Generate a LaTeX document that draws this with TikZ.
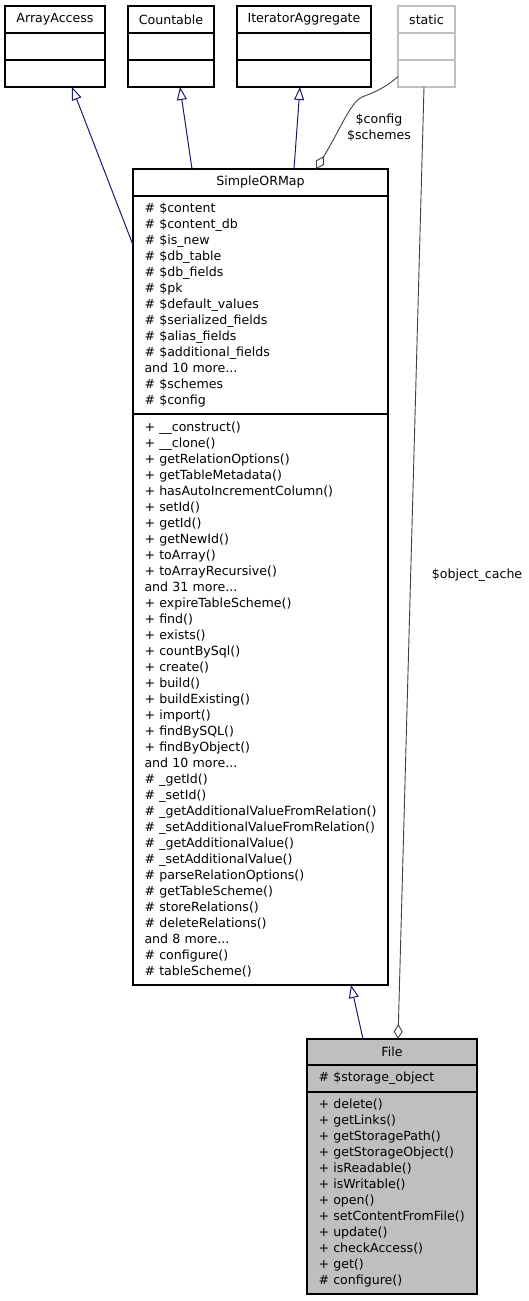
\documentclass[tikz,border=0pt]{standalone}
\usepackage{fontspec}
\setmainfont{DejaVu Sans}
\usetikzlibrary{positioning, arrows.meta}
\definecolor{inhblue}{HTML}{191970}
\definecolor{compgray}{HTML}{404040}
\definecolor{filegray}{HTML}{BFBFBF}
\definecolor{ghostgray}{HTML}{BFBFBF}

\begin{document}
\begin{tikzpicture}[x=1pt, y=-1pt,
  every node/.style={font=\fontsize{12.6}{16}\selectfont},
  hd/.style={draw=black, fill=white, line width=1.1pt, anchor=north west, inner sep=0pt, outer sep=0pt, minimum height=27pt},
  cmp/.style={draw=black, fill=white, line width=1.1pt, inner sep=0pt, outer sep=0pt, minimum height=27pt},
  lst/.style={cmp, align=left, inner xsep=11.5pt, inner ysep=5pt},
  ghost/.style={draw=ghostgray},
  inh/.style={draw=inhblue, line width=1pt, -{Triangle[open, length=13pt, width=10pt]}},
  comp/.style={draw=compgray, line width=0.9pt, -{Diamond[open, length=15pt, width=9pt]}},
  lbl/.style={align=center, inner sep=0pt}]
  \useasboundingbox (0,0) rectangle (529,1301);

  % interfaces
  \node[hd, minimum width=100pt] (aaName) at (5,6) {ArrayAccess};
  \node[cmp, minimum width=100pt, below=0pt of aaName] (aaAttr) {};
  \node[cmp, minimum width=100pt, below=0pt of aaAttr] (aaMeth) {};

  \node[hd, minimum width=86pt] (cntName) at (128,6) {Countable};
  \node[cmp, minimum width=86pt, below=0pt of cntName] (cntAttr) {};
  \node[cmp, minimum width=86pt, below=0pt of cntAttr] (cntMeth) {};

  \node[hd, minimum width=134pt] (iaName) at (237,6) {IteratorAggregate};
  \node[cmp, minimum width=134pt, below=0pt of iaName] (iaAttr) {};
  \node[cmp, minimum width=134pt, below=0pt of iaAttr] (iaMeth) {};

  \node[hd, ghost, minimum width=57pt] (stName) at (398,6) {static};
  \node[cmp, ghost, minimum width=57pt, below=0pt of stName] (stAttr) {};
  \node[cmp, ghost, minimum width=57pt, below=0pt of stAttr] (stMeth) {};

  % SimpleORMap
  \node[hd, minimum width=255pt] (sormName) at (133,169) {SimpleORMap};
  \node[lst, text width=232pt, minimum height=218pt, below=0pt of sormName] (sormAttr) {%
    \# \$content\\
    \# \$content\_db\\
    \# \$is\_new\\
    \# \$db\_table\\
    \# \$db\_fields\\
    \# \$pk\\
    \# \$default\_values\\
    \# \$serialized\_fields\\
    \# \$alias\_fields\\
    \# \$additional\_fields\\
    and 10 more...\\
    \# \$schemes\\
    \# \$config};
  \node[lst, text width=232pt, minimum height=571pt, below=0pt of sormAttr] (sormMeth) {%
    + \_\_construct()\\
    + \_\_clone()\\
    + getRelationOptions()\\
    + getTableMetadata()\\
    + hasAutoIncrementColumn()\\
    + setId()\\
    + getId()\\
    + getNewId()\\
    + toArray()\\
    + toArrayRecursive()\\
    and 31 more...\\
    + expireTableScheme()\\
    + find()\\
    + exists()\\
    + countBySql()\\
    + create()\\
    + build()\\
    + buildExisting()\\
    + import()\\
    + findBySQL()\\
    + findByObject()\\
    and 10 more...\\
    \# \_getId()\\
    \# \_setId()\\
    \# \_getAdditionalValueFromRelation()\\
    \# \_setAdditionalValueFromRelation()\\
    \# \_getAdditionalValue()\\
    \# \_setAdditionalValue()\\
    \# parseRelationOptions()\\
    \# getTableScheme()\\
    \# storeRelations()\\
    \# deleteRelations()\\
    and 8 more...\\
    \# configure()\\
    \# tableScheme()};

  % File
  \node[hd, fill=filegray, minimum width=170pt, minimum height=26pt] (fileName) at (307,1039) {File};
  \node[lst, fill=filegray, text width=147pt, minimum height=27pt, below=0pt of fileName] (fileAttr) {\# \$storage\_object};
  \node[lst, fill=filegray, text width=147pt, minimum height=202pt, below=0pt of fileAttr] (fileMeth) {%
    + delete()\\
    + getLinks()\\
    + getStoragePath()\\
    + getStorageObject()\\
    + isReadable()\\
    + isWritable()\\
    + open()\\
    + setContentFromFile()\\
    + update()\\
    + checkAccess()\\
    + get()\\
    \# configure()};

  % relations
  \draw[inh] ([yshift=-49pt]sormAttr.north west) -- ([xshift=17pt]aaMeth.south);
  \draw[inh] ([xshift=-68.5pt]sormName.north) -- ([xshift=9pt]cntMeth.south);
  \draw[inh] ([xshift=33.5pt]sormName.north) -- ([xshift=-4pt]iaMeth.south);
  \draw[inh] ([xshift=-29pt]fileName.north) -- ([xshift=90.5pt]sormMeth.south);

  \draw[comp] ([yshift=-3pt]stMeth.west) .. controls (385,88) and (375,92) .. (362,97)
    .. controls (350,103) and (340,130) .. ([xshift=55.5pt]sormName.north);
  \draw[comp] ([xshift=-2.5pt]stMeth.south) -- ([xshift=6pt]fileName.north);

  \node[lbl] (cfgLbl) at (379,128) {\$config\\\$schemes};
  \node[lbl] (cacheLbl) at (477,575) {\$object\_cache};
\end{tikzpicture}
\end{document}
